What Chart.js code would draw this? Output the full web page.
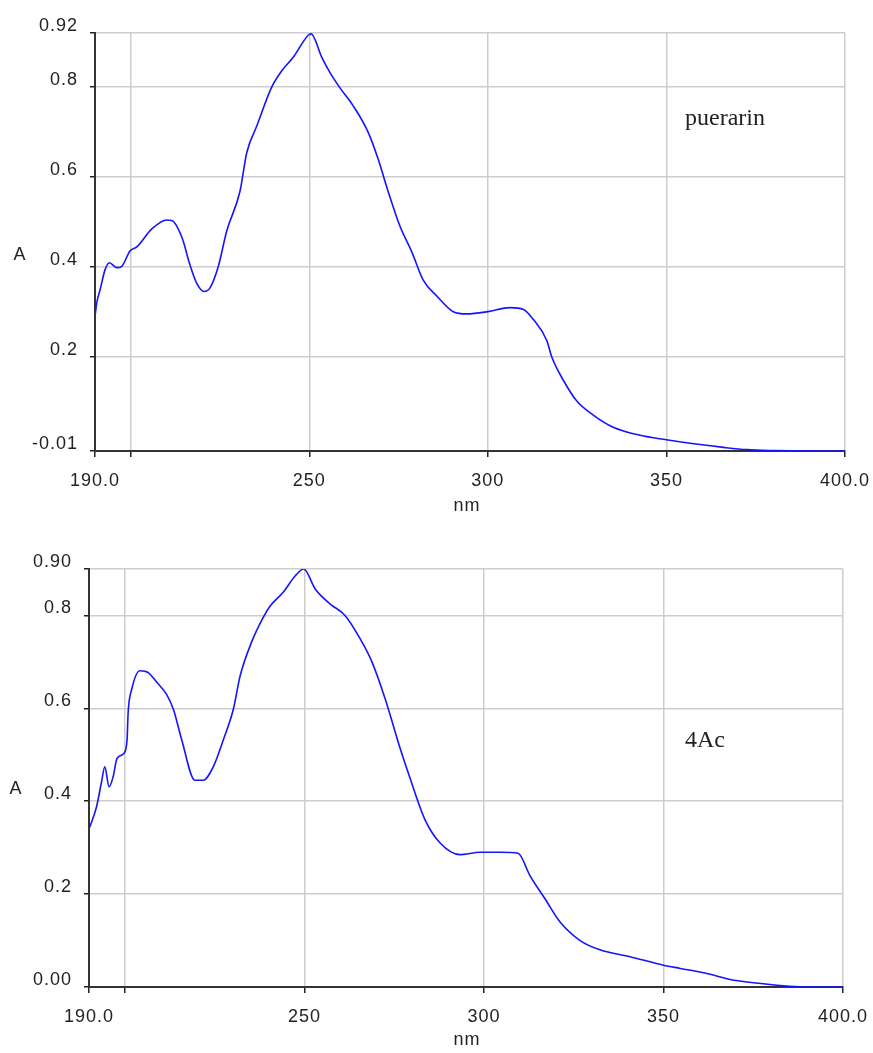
<!DOCTYPE html>
<html lang="en">
<head>
  <meta charset="UTF-8">
  <title>UV spectra - puerarin / 4Ac</title>
  <script src="https://cdn.jsdelivr.net/npm/chart.js"></script>
  <style>
    body {
      margin: 0;
      padding: 0;
      background: #ffffff;
    }
    .wrap {
      position: relative;
      width: 873px;
      height: 1053px;
    }
    canvas {
      position: absolute;
      left: 0;
    }
    #topChart { top: 0; }
    #bottomChart { top: 525px; }
  </style>
</head>
<body>

<div class="wrap">
  <canvas id="topChart" width="873" height="525"></canvas>
  <canvas id="bottomChart" width="873" height="528"></canvas>
</div>

<script>
  // x axis (wavelength, nm)
  const xTicks = [190, 200, 250, 300, 350, 400];
  const xTickLabels = ['190.0', '', '250', '300', '350', '400.0'];

  // puerarin spectrum
  const puerarinNm = [190, 190.5, 191.4, 192.8, 194.0, 196.1, 197.5, 199.8, 201.7, 205.9,
    210.1, 211.5, 214.3, 216.6, 218.5, 220.5, 222.2, 224.5, 226.9, 230.6,
    232.5, 235.3, 239.5, 242.3, 245.5, 249.7, 250.5, 253.5, 255.8, 258.6,
    262.3, 266.5, 269.3, 272.1, 275.4, 278.7, 281.9, 285.7, 290.3, 294.1,
    300, 306.2, 310, 312.7, 316.5, 317.9, 321.1, 324.9, 329.5, 335.1,
    342.6, 350, 357.7, 366, 372.5, 380, 390, 400];
  const puerarinA = [0.29, 0.32, 0.348, 0.393, 0.409, 0.398, 0.401, 0.435, 0.444, 0.484,
    0.504, 0.503, 0.466, 0.404, 0.363, 0.345, 0.353, 0.40, 0.48, 0.568,
    0.654, 0.713, 0.80, 0.836, 0.866, 0.915, 0.918, 0.866, 0.832, 0.798,
    0.758, 0.699, 0.639, 0.567, 0.49, 0.433, 0.37, 0.335, 0.30, 0.295,
    0.30, 0.309, 0.305, 0.283, 0.236, 0.199, 0.148, 0.101, 0.07, 0.043,
    0.025, 0.015, 0.006, -0.002, -0.007, -0.009, -0.01, -0.01];
  const yTicksTop = [-0.01, 0.2, 0.4, 0.6, 0.8, 0.92];
  const yLabelsTop = ['-0.01', '0.2', '0.4', '0.6', '0.8', '0.92'];

  // 4Ac spectrum
  const acNm = [190.2, 192.1, 193.5, 194.4, 195.6, 196.7, 197.8, 199.7, 200.6, 200.9,
    201.9, 204.2, 206.5, 208.9, 211.6, 213.5, 215.8, 219.5, 221.8, 224.6,
    227.4, 230.2, 232.1, 235.3, 238.6, 240.4, 244.1, 247.4, 249.8, 253.0,
    257.1, 261.3, 265.5, 268.8, 272.5, 276.6, 279.4, 283.6, 287.8, 293.3,
    298.9, 304.5, 309.5, 312.8, 317.0, 321.2, 326.8, 332.3, 340.7, 350,
    354.7, 362.1, 368.6, 375.1, 382.5, 389, 400];
  const acA = [0.344, 0.388, 0.442, 0.474, 0.431, 0.452, 0.492, 0.503, 0.532, 0.591,
    0.641, 0.681, 0.677, 0.656, 0.63, 0.598, 0.533, 0.445, 0.445, 0.474,
    0.532, 0.598, 0.67, 0.743, 0.797, 0.82, 0.85, 0.885, 0.90, 0.857,
    0.825, 0.80, 0.75, 0.70, 0.62, 0.515, 0.45, 0.36, 0.31, 0.285,
    0.29, 0.29, 0.288, 0.24, 0.19, 0.14, 0.10, 0.08, 0.065, 0.047,
    0.04, 0.029, 0.016, 0.009, 0.003, 0.0, 0.0];
  const yTicksBottom = [0, 0.2, 0.4, 0.6, 0.8, 0.9];
  const yLabelsBottom = ['0.00', '0.2', '0.4', '0.6', '0.8', '0.90'];

  Chart.defaults.font.family = '"Liberation Sans", Arial, sans-serif';
  Chart.defaults.font.size = 18;
  Chart.defaults.color = '#222';

  // axis names and the sample name, drawn on the canvas
  const labelsPlugin = {
    id: 'specLabels',
    beforeDraw(chart) {
      chart.ctx.letterSpacing = '1px';
    },
    afterDraw(chart, args, o) {
      const ctx = chart.ctx;
      ctx.save();
      ctx.fillStyle = '#222';
      ctx.textAlign = 'center';
      ctx.textBaseline = 'middle';
      ctx.font = '18px "Liberation Sans", Arial, sans-serif';
      ctx.fillText('A', o.aX, o.aY);
      ctx.fillText('nm', o.nmX, o.nmY);
      ctx.letterSpacing = '0px';
      ctx.textAlign = 'left';
      ctx.textBaseline = 'alphabetic';
      ctx.font = '24px "Liberation Serif", "Times New Roman", serif';
      ctx.fillText(o.name, o.nameX, o.nameY);
      ctx.restore();
    }
  };

  function makeChart(id, nm, absorb, yMin, yMax, yTicks, yLabels, g) {
    const ctx = document.getElementById(id).getContext('2d');
    return new Chart(ctx, {
      type: 'line',
      data: {
        datasets: [{
          data: nm.map((x, i) => ({ x: x, y: absorb[i] })),
          borderColor: '#1414ff',
          borderWidth: 1.6,
          pointRadius: 0,
          fill: false,
          cubicInterpolationMode: 'monotone'
        }]
      },
      options: {
        responsive: false,
        animation: false,
        devicePixelRatio: 1,
        layout: {
          padding: { left: 0, right: g.right, top: g.top, bottom: 0 }
        },
        plugins: {
          legend: { display: false },
          tooltip: { enabled: false },
          specLabels: g.labels
        },
        scales: {
          x: {
            type: 'linear',
            min: 190,
            max: 400,
            afterBuildTicks: s => { s.ticks = xTicks.map(v => ({ value: v })); },
            afterFit: s => {
              s.height = g.xHeight;
              s.paddingLeft = 0;
              s.paddingRight = 0;
            },
            ticks: {
              autoSkip: false,
              maxRotation: 0,
              padding: 13,
              callback: (v, i) => xTickLabels[i]
            },
            grid: {
              color: '#cdcdcd',
              lineWidth: 1.5,
              tickLength: 6,
              tickColor: '#222'
            },
            border: { color: '#333', width: 2 }
          },
          y: {
            type: 'linear',
            min: yMin,
            max: yMax,
            afterBuildTicks: s => { s.ticks = yTicks.map(v => ({ value: v })); },
            afterFit: s => {
              s.width = g.yWidth;
              s.paddingTop = 0;
              s.paddingBottom = 0;
            },
            ticks: {
              autoSkip: false,
              padding: 12,
              labelOffset: -7,
              callback: (v, i) => yLabels[i]
            },
            grid: {
              color: '#cdcdcd',
              lineWidth: 1.5,
              tickLength: 5,
              tickColor: '#222'
            },
            border: { color: '#333', width: 2 }
          }
        }
      },
      plugins: [labelsPlugin]
    });
  }

  makeChart('topChart', puerarinNm, puerarinA, -0.01, 0.92, yTicksTop, yLabelsTop, {
    top: 33, right: 28, yWidth: 95, xHeight: 74,
    labels: { name: 'puerarin', nameX: 685, nameY: 125, aX: 20, aY: 255, nmX: 467, nmY: 506 }
  });

  makeChart('bottomChart', acNm, acA, 0, 0.9, yTicksBottom, yLabelsBottom, {
    top: 44, right: 30, yWidth: 89, xHeight: 66,
    labels: { name: '4Ac', nameX: 685, nameY: 222, aX: 16, aY: 264, nmX: 467, nmY: 515 }
  });
</script>

</body>
</html>
